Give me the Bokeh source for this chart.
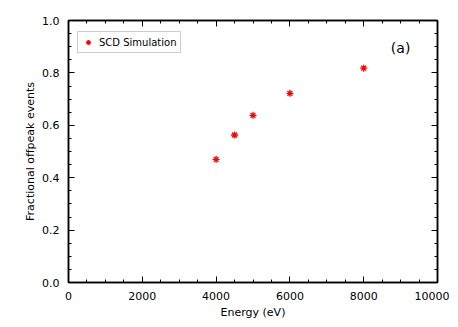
from bokeh.plotting import figure
from bokeh.models import LinearAxis, Range1d, FixedTicker, Legend, LegendItem, Label, CustomJSTickFormatter
from bokeh.embed import file_html
from bokeh.resources import INLINE

energy = [4000, 4500, 5000, 6000, 8000]
fraction = [0.470, 0.563, 0.638, 0.722, 0.818]
series_name = "SCD Simulation"
x_ticks = [0, 2000, 4000, 6000, 8000, 10000]
y_ticks = [0.0, 0.2, 0.4, 0.6, 0.8, 1.0]

FONT = "DejaVu Sans"

p = figure(frame_width=369, frame_height=262, output_backend="svg", toolbar_location=None,
           x_range=Range1d(0, 10000), y_range=Range1d(0, 1.0),
           min_border_left=68, min_border_top=20, min_border_right=12, min_border_bottom=34)
p.background_fill_color = "white"
p.border_fill_color = "white"
p.outline_line_color = "black"
p.outline_line_width = 1.5
p.xgrid.visible = False
p.ygrid.visible = False

minor_x = [v for v in range(0, 10001, 500)]
minor_y = [round(v * 0.05, 2) for v in range(0, 21)]

def style(ax, ticks, minors, labels=True):
    ax.ticker = FixedTicker(ticks=ticks, minor_ticks=minors)
    ax.major_tick_in = 6
    ax.major_tick_out = 0
    ax.minor_tick_in = 3
    ax.minor_tick_out = 0
    ax.axis_line_width = 1.5
    ax.major_tick_line_width = 1
    ax.minor_tick_line_width = 1
    ax.major_label_text_font = FONT
    ax.major_label_text_font_size = "11px"
    ax.major_label_text_color = "black"
    ax.axis_label_text_font = FONT
    ax.axis_label_text_font_size = "11px"
    ax.axis_label_text_font_style = "normal"
    ax.axis_label_text_color = "black"
    if not labels:
        ax.formatter = CustomJSTickFormatter(code="return '';")
        ax.major_label_standoff = 0

p.xaxis.axis_label = "Energy (eV)"
p.yaxis.axis_label = "Fractional offpeak events"
style(p.xaxis[0], x_ticks, minor_x)
style(p.yaxis[0], y_ticks, minor_y)
p.xaxis[0].major_label_standoff = 9
p.xaxis[0].axis_label_standoff = 3
p.yaxis[0].major_label_standoff = 9
p.yaxis[0].axis_label_standoff = 2
p.yaxis[0].formatter = CustomJSTickFormatter(code="return tick.toFixed(1);")

top = LinearAxis()
style(top, x_ticks, minor_x, labels=False)
right = LinearAxis()
style(right, y_ticks, minor_y, labels=False)
p.add_layout(top, "above")
p.add_layout(right, "right")

r = p.scatter(energy, fraction, marker="asterisk", size=7, line_color="#ff0000", line_width=1.3)

legend = Legend(items=[LegendItem(label=series_name, renderers=[r])],
                location=(9, 229), padding=4, margin=0, spacing=0,
                glyph_width=12, glyph_height=12, label_standoff=5,
                label_text_font=FONT, label_text_font_size="10px", label_text_color="black",
                border_line_color="#999999", border_line_width=1,
                background_fill_alpha=1.0)
p.add_layout(legend, "center")

p.add_layout(Label(x=9000, y=0.895, text="(a)", text_font=FONT, text_font_size="14px",
                   text_color="black", text_align="center", text_baseline="middle"))

open("out.html", "w").write(file_html(p, INLINE))
